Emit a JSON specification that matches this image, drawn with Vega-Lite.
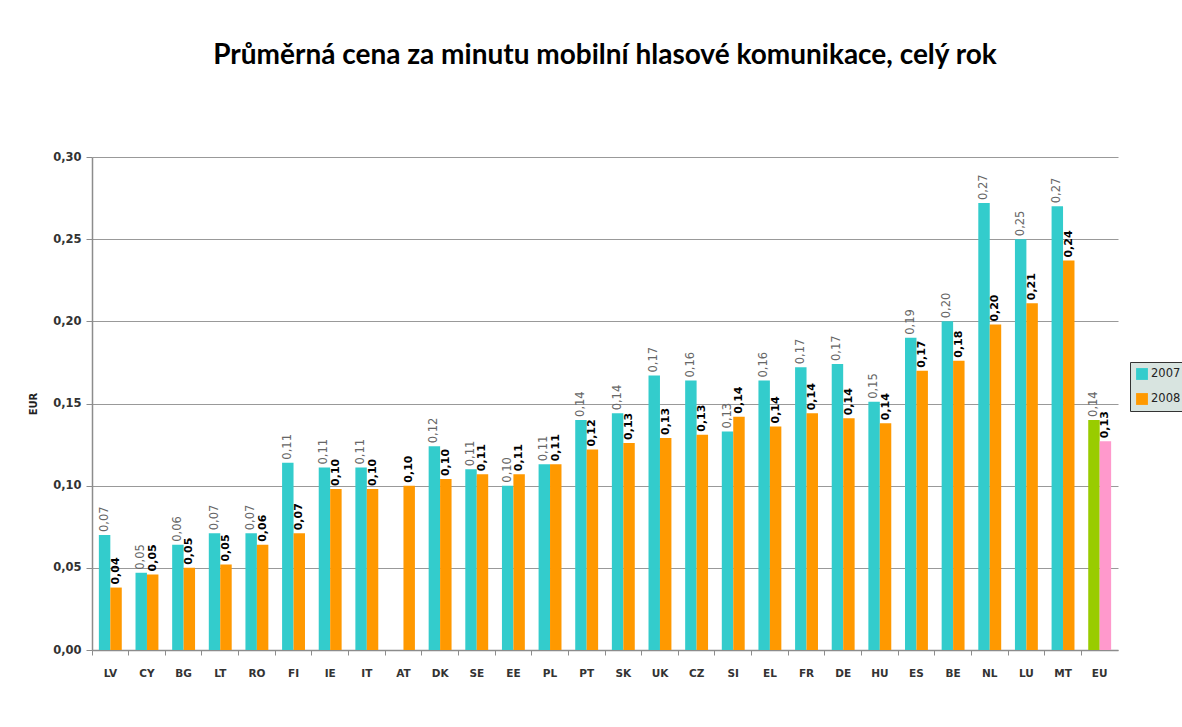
{
  "$schema": "https://vega.github.io/schema/vega-lite/v6.json",
  "autosize": "none",
  "padding": {"left": 92, "top": 157, "right": 64, "bottom": 77},
  "width": 1026,
  "height": 493,
  "background": "white",
  "config": {
    "locale": {"number": {"decimal": ",", "thousands": " ", "grouping": [3], "currency": ["", " €"]}},
    "view": {"stroke": null},
    "font": "DejaVu Sans"
  },
  "title": {
    "text": "Průměrná cena za minutu mobilní hlasové komunikace, celý rok",
    "font": "Lato",
    "fontSize": 28,
    "fontWeight": "bold",
    "color": "#000000",
    "anchor": "middle",
    "offset": 81
  },
  "data": {
    "values": [
      {"country": "LV", "year": "2007", "value": 0.070}, {"country": "LV", "year": "2008", "value": 0.038},
      {"country": "CY", "year": "2007", "value": 0.047}, {"country": "CY", "year": "2008", "value": 0.046},
      {"country": "BG", "year": "2007", "value": 0.064}, {"country": "BG", "year": "2008", "value": 0.050},
      {"country": "LT", "year": "2007", "value": 0.071}, {"country": "LT", "year": "2008", "value": 0.052},
      {"country": "RO", "year": "2007", "value": 0.071}, {"country": "RO", "year": "2008", "value": 0.064},
      {"country": "FI", "year": "2007", "value": 0.114}, {"country": "FI", "year": "2008", "value": 0.071},
      {"country": "IE", "year": "2007", "value": 0.111}, {"country": "IE", "year": "2008", "value": 0.098},
      {"country": "IT", "year": "2007", "value": 0.111}, {"country": "IT", "year": "2008", "value": 0.098},
      {"country": "AT", "year": "2008", "value": 0.100},
      {"country": "DK", "year": "2007", "value": 0.124}, {"country": "DK", "year": "2008", "value": 0.104},
      {"country": "SE", "year": "2007", "value": 0.110}, {"country": "SE", "year": "2008", "value": 0.107},
      {"country": "EE", "year": "2007", "value": 0.100}, {"country": "EE", "year": "2008", "value": 0.107},
      {"country": "PL", "year": "2007", "value": 0.113}, {"country": "PL", "year": "2008", "value": 0.113},
      {"country": "PT", "year": "2007", "value": 0.140}, {"country": "PT", "year": "2008", "value": 0.122},
      {"country": "SK", "year": "2007", "value": 0.144}, {"country": "SK", "year": "2008", "value": 0.126},
      {"country": "UK", "year": "2007", "value": 0.167}, {"country": "UK", "year": "2008", "value": 0.129},
      {"country": "CZ", "year": "2007", "value": 0.164}, {"country": "CZ", "year": "2008", "value": 0.131},
      {"country": "SI", "year": "2007", "value": 0.133}, {"country": "SI", "year": "2008", "value": 0.142},
      {"country": "EL", "year": "2007", "value": 0.164}, {"country": "EL", "year": "2008", "value": 0.136},
      {"country": "FR", "year": "2007", "value": 0.172}, {"country": "FR", "year": "2008", "value": 0.144},
      {"country": "DE", "year": "2007", "value": 0.174}, {"country": "DE", "year": "2008", "value": 0.141},
      {"country": "HU", "year": "2007", "value": 0.151}, {"country": "HU", "year": "2008", "value": 0.138},
      {"country": "ES", "year": "2007", "value": 0.190}, {"country": "ES", "year": "2008", "value": 0.170},
      {"country": "BE", "year": "2007", "value": 0.200}, {"country": "BE", "year": "2008", "value": 0.176},
      {"country": "NL", "year": "2007", "value": 0.272}, {"country": "NL", "year": "2008", "value": 0.198},
      {"country": "LU", "year": "2007", "value": 0.250}, {"country": "LU", "year": "2008", "value": 0.211},
      {"country": "MT", "year": "2007", "value": 0.270}, {"country": "MT", "year": "2008", "value": 0.237},
      {"country": "EU", "year": "2007", "value": 0.140}, {"country": "EU", "year": "2008", "value": 0.127}
    ]
  },
  "encoding": {
    "x": {
      "field": "country",
      "type": "nominal",
      "sort": null,
      "scale": {"paddingInner": 0, "paddingOuter": 0},
      "axis": {
        "title": null,
        "labelAngle": 0,
        "bandPosition": 0,
        "labelFont": "DejaVu Sans",
        "labelFontSize": 10.5,
        "labelFontWeight": "bold",
        "labelColor": "#333333",
        "labelPadding": 13,
        "domainColor": "#8c8c8c",
        "tickColor": "#8c8c8c",
        "tickSize": 5,
        "domainWidth": 1.5
      }
    },
    "xOffset": {
      "field": "year",
      "type": "nominal",
      "scale": {"paddingInner": 0, "paddingOuter": 0.6}
    },
    "y": {
      "field": "value",
      "type": "quantitative",
      "scale": {"domain": [0, 0.3], "nice": false},
      "axis": {
        "title": "EUR",
        "titleFont": "DejaVu Sans",
        "titleFontSize": 10,
        "titleFontWeight": "bold",
        "titleColor": "#222222",
        "titlePadding": 14,
        "values": [0, 0.05, 0.1, 0.15, 0.2, 0.25, 0.3],
        "format": ".2f",
        "labelFont": "DejaVu Sans",
        "labelFontSize": 11.5,
        "labelFontWeight": "bold",
        "labelColor": "#333333",
        "labelPadding": 5,
        "domainColor": "#8c8c8c",
        "domainWidth": 1.5,
        "tickColor": "#8c8c8c",
        "tickSize": 6,
        "gridColor": "#999999",
        "gridWidth": 1.2,
        "grid": true
      }
    }
  },
  "layer": [
    {
      "mark": {"type": "bar"},
      "encoding": {
        "color": {
          "condition": [
            {"test": "datum.country === 'EU' && datum.year === '2007'", "value": "#99CC00"},
            {"test": "datum.country === 'EU' && datum.year === '2008'", "value": "#FF99CC"}
          ],
          "field": "year",
          "type": "nominal",
          "scale": {"domain": ["2007", "2008"], "range": ["#33CCCC", "#FF9900"]},
          "legend": {
            "title": null,
            "orient": "none",
            "legendX": 1038,
            "legendY": 205,
            "symbolType": "square",
            "symbolSize": 140,
            "symbolStrokeWidth": 0,
            "symbolOffset": 0,
            "labelFont": "DejaVu Sans",
            "labelFontSize": 11.5,
            "labelOffset": 3,
            "labelColor": "#222222",
            "rowPadding": 13,
            "padding": 6,
            "fillColor": "#d8e4e0",
            "strokeColor": "#333333"
          }
        }
      }
    },
    {
      "transform": [{"filter": "datum.year === '2007'"}],
      "mark": {"type": "text", "angle": -90, "align": "left", "baseline": "middle", "dx": 3, "font": "DejaVu Sans", "fontSize": 11.5, "color": "#666666"},
      "encoding": {
        "text": {"field": "value", "type": "quantitative", "format": ".2f"}
      }
    },
    {
      "transform": [{"filter": "datum.year === '2008'"}],
      "mark": {"type": "text", "angle": -90, "align": "left", "baseline": "middle", "dx": 3, "font": "DejaVu Sans", "fontSize": 11, "fontWeight": "bold", "color": "#000000"},
      "encoding": {
        "text": {"field": "value", "type": "quantitative", "format": ".2f"}
      }
    }
  ]
}
